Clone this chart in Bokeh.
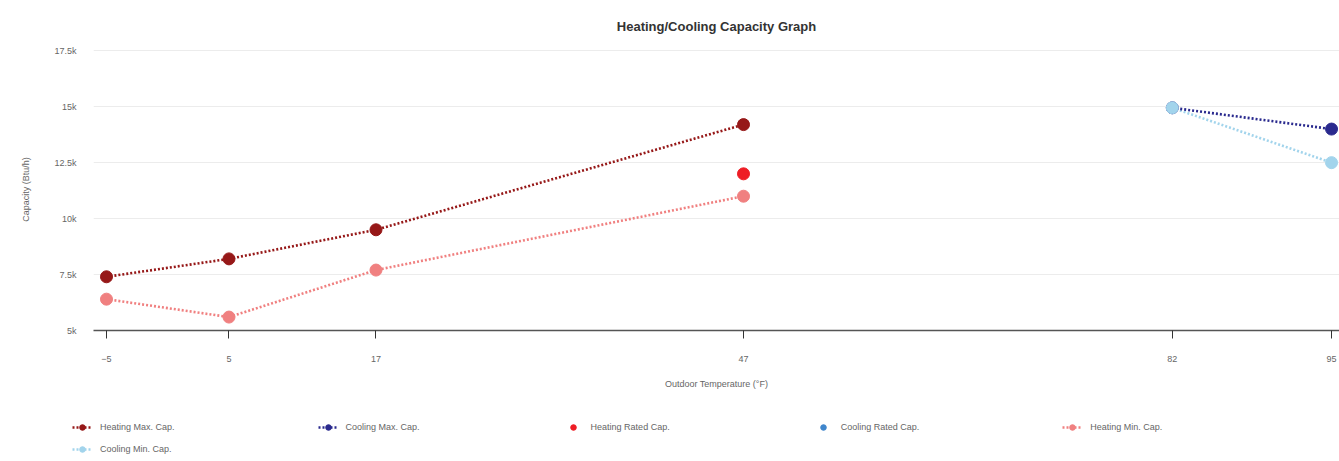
from bokeh.plotting import figure
from bokeh.models import FixedTicker, Legend, LegendItem, Range1d
from bokeh.layouts import column, row
from bokeh.embed import file_html
from bokeh.resources import INLINE

# ---- data ----
heat_temps = [-5, 5, 17, 47]
heat_max = [7400, 8200, 9500, 14200]
heat_min = [6400, 5600, 7700, 11000]
heat_rated_temps = [47]
heat_rated = [12000]
cool_temps = [82, 95]
cool_max = [14950, 14000]
cool_min = [14950, 12500]
cool_rated_temps = [82]
cool_rated = [14950]

x_ticks = [-5, 5, 17, 47, 82, 95]
y_ticks = [5000, 7500, 10000, 12500, 15000, 17500]
y_tick_labels = ["5k", "7.5k", "10k", "12.5k", "15k", "17.5k"]

series_names = ["Heating Max. Cap.", "Cooling Max. Cap.", "Heating Rated Cap.",
                "Cooling Rated Cap.", "Heating Min. Cap.", "Cooling Min. Cap."]

C_HMAX = "#961818"
C_CMAX = "#2a2a8e"
C_HRATED = "#ee1d25"
C_CRATED = "#3f86cc"
C_HMIN = "#f08080"
C_CMIN = "#a2d4ec"

FONT = "Liberation Sans"
DASH = "2 2"
LW = 2.6
S = 12

p = figure(width=1339, height=400, output_backend="svg", toolbar_location=None,
           x_range=Range1d(-6.06, 95.65), y_range=Range1d(5000, 17600),
           min_border_left=93, min_border_right=0, min_border_top=48,
           min_border_bottom=70)
p.outline_line_color = None

p.title.text = "Heating/Cooling Capacity Graph"
p.title.align = "center"
p.title.text_font = FONT
p.title.text_font_size = "13px"
p.title.text_color = "#333333"
p.title.text_font_style = "bold"
p.title.standoff = 30

# axes
xa = p.xaxis[0]
xa.ticker = FixedTicker(ticks=x_ticks)
xa.axis_line_color = "#555555"
xa.axis_line_width = 1.5
xa.major_tick_line_color = "#333333"
xa.major_tick_out = 8
xa.major_tick_in = 0
xa.minor_tick_line_color = None
xa.major_label_standoff = 17
xa.major_label_text_font = FONT
xa.major_label_text_font_size = "9px"
xa.major_label_text_color = "#666666"
xa.axis_label = "Outdoor Temperature (°F)"
xa.axis_label_text_font = FONT
xa.axis_label_text_font_size = "9px"
xa.axis_label_text_font_style = "normal"
xa.axis_label_text_color = "#666666"
xa.axis_label_standoff = 14

ya = p.yaxis[0]
ya.ticker = FixedTicker(ticks=y_ticks)
ya.major_label_overrides = {t: l for t, l in zip(y_ticks, y_tick_labels)}
ya.axis_line_color = None
ya.major_tick_line_color = None
ya.minor_tick_line_color = None
ya.major_label_standoff = 11
ya.major_label_text_font = FONT
ya.major_label_text_font_size = "9px"
ya.major_label_text_color = "#666666"
ya.axis_label = "Capacity (Btu/h)"
ya.axis_label_text_font = FONT
ya.axis_label_text_font_size = "9px"
ya.axis_label_text_font_style = "normal"
ya.axis_label_text_color = "#666666"
ya.axis_label_standoff = 20

p.xgrid.grid_line_color = None
p.ygrid.grid_line_color = "#ececec"
p.ygrid.grid_line_width = 1


def draw_series(fig):
    """Draw all series on fig; return legend renderer groups in legend order."""
    l_hmin = fig.line(heat_temps, heat_min, line_color=C_HMIN, line_width=LW, line_dash=DASH)
    c_hmin = fig.scatter(heat_temps, heat_min, size=S, color=C_HMIN)
    l_hmax = fig.line(heat_temps, heat_max, line_color=C_HMAX, line_width=LW, line_dash=DASH)
    c_hmax = fig.scatter(heat_temps, heat_max, size=S, color=C_HMAX)
    c_hrated = fig.scatter(heat_rated_temps, heat_rated, size=S, color=C_HRATED)
    c_crated = fig.scatter(cool_rated_temps, cool_rated, size=S - 2, color=C_CRATED)
    l_cmin = fig.line(cool_temps, cool_min, line_color=C_CMIN, line_width=LW, line_dash=DASH)
    l_cmax = fig.line(cool_temps, cool_max, line_color=C_CMAX, line_width=LW, line_dash=DASH)
    c_cmax = fig.scatter(cool_temps, cool_max, size=S, color=C_CMAX)
    c_cmin = fig.scatter(cool_temps, cool_min, size=S, color=C_CMIN)
    return [[l_hmax, c_hmax], [l_cmax, c_cmax], [c_hrated], [c_crated],
            [l_hmin, c_hmin], [l_cmin, c_cmin]]


draw_series(p)

# ---- legend strip (same series, drawn off-range so only the legend shows) ----
lf = figure(width=1339, height=61, output_backend="svg", toolbar_location=None,
            x_range=Range1d(500, 501), y_range=Range1d(-500, -499),
            x_axis_type=None, y_axis_type=None,
            min_border_left=0, min_border_right=0, min_border_top=0,
            min_border_bottom=0)
lf.outline_line_color = None
lf.xgrid.visible = False
lf.ygrid.visible = False

groups = draw_series(lf)
items = [LegendItem(label=n, renderers=r) for n, r in zip(series_names, groups)]


def make_legend(its, loc):
    return Legend(items=its, orientation="horizontal",
                  location=loc, border_line_color=None,
                  background_fill_alpha=0,
                  glyph_width=20, glyph_height=14, label_height=14,
                  label_standoff=8, spacing=143, padding=0,
                  margin=0,
                  label_text_font=FONT, label_text_font_size="9px",
                  label_text_color="#666666")


lf.add_layout(make_legend(items[:5], (72, 27)), "center")
lf.add_layout(make_legend(items[5:], (72, 5)), "center")

layout = column(p, row(lf, spacing=0), spacing=0)
open("out.html", "w").write(file_html(layout, INLINE))
